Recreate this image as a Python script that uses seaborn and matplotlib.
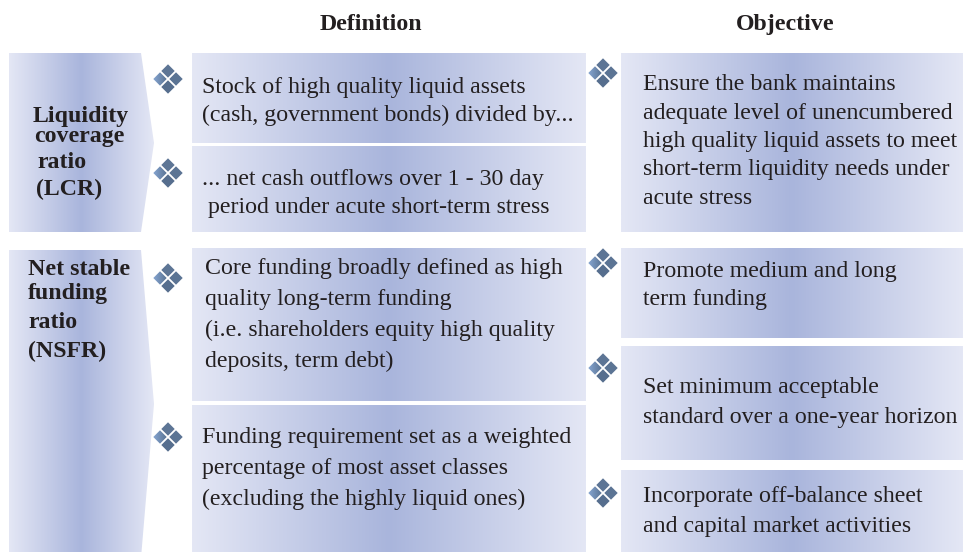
import matplotlib.pyplot as plt
from matplotlib.patches import Polygon
import numpy as np
import seaborn as sns

# text content
headers = ["Definition", "Objective"]
ratio_names = [
    ["Liquidity", "coverage", "ratio", "(LCR)"],
    ["Net stable", "funding", "ratio", "(NSFR)"],
]
definitions = [
    ["Stock of high quality liquid assets", "(cash, government bonds) divided by..."],
    ["... net cash outflows over 1 - 30 day", " period under acute short-term stress"],
    ["Core funding broadly defined as high", "quality long-term funding",
     "(i.e. shareholders equity high quality", "deposits, term debt)"],
    ["Funding requirement set as a weighted", "percentage of most asset classes",
     "(excluding the highly liquid ones)"],
]
objectives = [
    ["Ensure the bank maintains", "adequate level of unencumbered",
     "high quality liquid assets to meet", "short-term liquidity needs under", "acute stress"],
    ["Promote medium and long", "term funding"],
    ["Set minimum acceptable", "standard over a one-year horizon"],
    ["Incorporate off-balance sheet", "and capital market activities"],
]

# layout (pixels, y downwards)
header_x = [371, 785]
header_y = 30
label_shapes = [
    [(9, 53), (141, 53), (154, 143), (141, 232), (9, 232)],
    [(9, 250), (141, 250), (154, 404), (141, 558), (9, 558)],
]
label_pos = [
    [(33, 122), (34, 142), (37, 168), (36, 195)],
    [(28, 275), (28, 299), (28, 328), (28, 357)],
]
# x0, x1, y0, y1, text x, first baseline, line step, icon centre
def_layout = [
    (192, 586, 53, 143, 202, 93, 27.5, (168, 79)),
    (192, 586, 146, 232, 202, 185, 27.5, (168, 173)),
    (192, 586, 248, 401, 205, 274, 31, (168, 278)),
    (192, 586, 405, 552, 202, 443, 31, (168, 437)),
]
obj_layout = [
    (621, 963, 53, 232, 643, 90, 28.5, (603, 73)),
    (621, 963, 248, 338, 643, 277, 27.5, (603, 263)),
    (621, 963, 346, 460, 643, 393, 30, (603, 368)),
    (621, 963, 470, 552, 643, 502, 30, (603, 493)),
]

sns.set_theme(style="white")
plt.rcParams['font.family'] = ['Liberation Serif', 'DejaVu Serif']
txt_color = "#231f20"
fs = 17.2

box_cmap = sns.blend_palette(["#e4e7f5", "#a9b5dc", "#e4e7f5"], as_cmap=True)
icon_cmap = sns.blend_palette(["#86a6d2", "#5a7393"], as_cmap=True)

fig = plt.figure(figsize=(9.63, 5.52), dpi=100)
ax = fig.add_axes([0, 0, 1, 1])


def grad_fill(points, cmap, z=1):
    pts = np.array(points)
    x0, x1 = pts[:, 0].min(), pts[:, 0].max()
    y0, y1 = pts[:, 1].min(), pts[:, 1].max()
    poly = Polygon(points, closed=True, facecolor='none', edgecolor='none', zorder=z)
    ax.add_patch(poly)
    im = ax.imshow(np.linspace(0, 1, 256).reshape(1, -1), cmap=cmap, aspect='auto',
                   extent=(x0, x1, y1, y0), interpolation='bilinear', zorder=z)
    im.set_clip_path(poly)


def icon(cx, cy):
    h, d = 6.7, 8
    for dx, dy, col in [(0, -d, "#5d7595"), (d, 0, "#5b7494"), (0, d, "#566e8e")]:
        ax.add_patch(Polygon([(cx + dx, cy + dy - h), (cx + dx + h, cy + dy),
                              (cx + dx, cy + dy + h), (cx + dx - h, cy + dy)],
                             closed=True, facecolor=col, edgecolor='none', zorder=3))
    grad_fill([(cx - d, cy - h), (cx - d + h, cy), (cx - d, cy + h), (cx - d - h, cy)],
              icon_cmap, z=3)


for hx, h in zip(header_x, headers):
    ax.text(hx, header_y, h, ha='center', va='baseline', fontsize=fs,
            fontweight='bold', color=txt_color)

for shape, pos, names in zip(label_shapes, label_pos, ratio_names):
    grad_fill(shape, box_cmap)
    for (tx, ty), t in zip(pos, names):
        ax.text(tx, ty, t, ha='left', va='baseline', fontsize=fs,
                fontweight='bold', color=txt_color, zorder=4)

for layout, texts in [(def_layout, definitions), (obj_layout, objectives)]:
    for (x0, x1, y0, y1, tx, ty, step, ic), lines in zip(layout, texts):
        grad_fill([(x0, y0), (x1, y0), (x1, y1), (x0, y1)], box_cmap)
        for i, line in enumerate(lines):
            ax.text(tx, ty + i * step, line, ha='left', va='baseline', fontsize=fs,
                    color=txt_color, zorder=4)
        icon(*ic)

ax.set_xlim(0, 963)
ax.set_ylim(552, 0)
ax.axis('off')
fig.savefig('out.png', dpi=100)
